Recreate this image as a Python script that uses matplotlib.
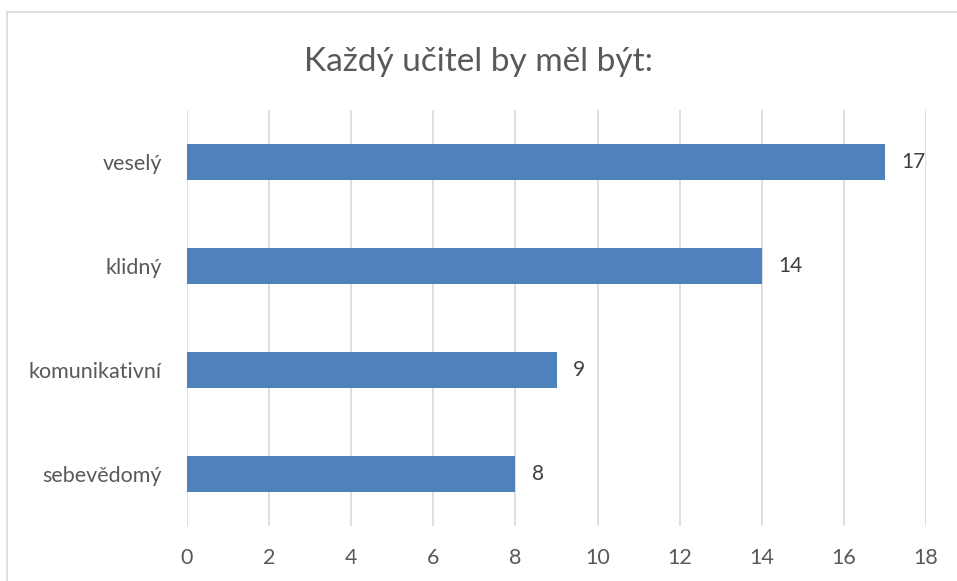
import matplotlib.pyplot as plt
from matplotlib.patches import Rectangle

plt.rcParams['font.family'] = ['Lato', 'DejaVu Sans']

title = 'Každý učitel by měl být:'
categories = ['veselý', 'klidný', 'komunikativní', 'sebevědomý']
values = [17, 14, 9, 8]
xticks = list(range(0, 19, 2))

text_col = '#595959'
grid_col = '#D9D9D9'
bar_col = '#4F81BD'

fig = plt.figure(figsize=(9.57, 5.81), dpi=100)
ax = fig.add_axes([187 / 957, 1 - 526 / 581, (926 - 187) / 957, (526 - 110) / 581])

# ramecek grafu (orezany vpravo a dole)
fig.patches.append(Rectangle((7 / 957, -0.1), 1.2, 1 - 12 / 581 + 0.1,
                             transform=fig.transFigure, fill=False,
                             edgecolor=grid_col, linewidth=1.2))

ypos = list(range(len(categories)))[::-1]
ax.barh(ypos, values, height=0.35, color=bar_col, zorder=3)
for y, v in zip(ypos, values):
    ax.text(v + 0.4, y, str(v), va='center', ha='left', fontsize=15, color='#404040')

ax.set_xlim(0, 18)
ax.set_ylim(-0.5, len(categories) - 0.5)
ax.set_xticks(xticks)
ax.set_xticklabels([str(t) for t in xticks], fontsize=15.5, color=text_col)
ax.set_yticks(ypos)
ax.set_yticklabels(categories, fontsize=15.5, color=text_col)
ax.tick_params(axis='both', length=0)
ax.tick_params(axis='x', pad=16)
ax.tick_params(axis='y', pad=18)
ax.grid(axis='x', color=grid_col, linewidth=1.2, zorder=0)
for s in ax.spines.values():
    s.set_visible(False)

fig.text(0.5, 1 - 62 / 581, title, ha='center', va='center', fontsize=24, color=text_col)

fig.savefig('out.png', dpi=100)
